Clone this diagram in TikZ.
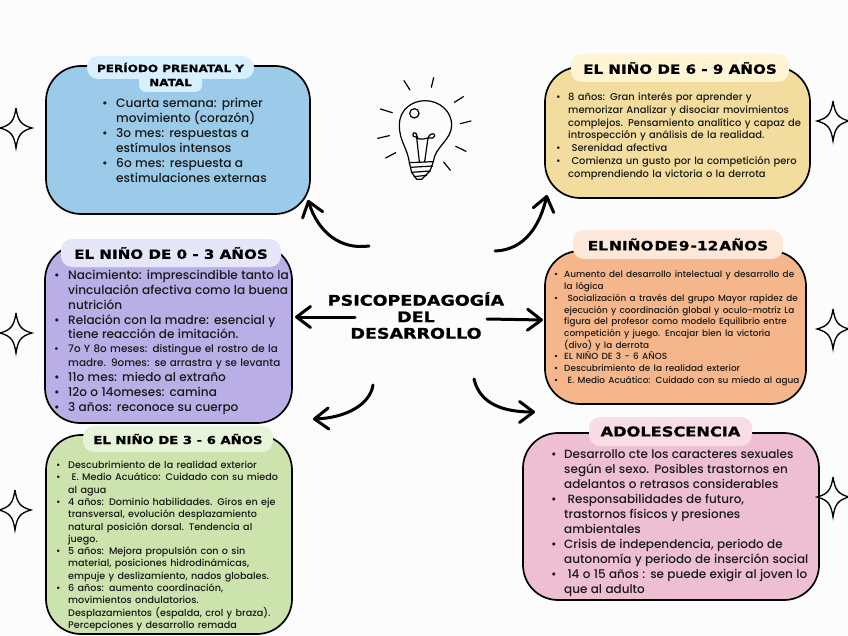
\documentclass[tikz,border=0pt]{standalone}
\usepackage{fontspec}
\setmainfont{Poppins Medium}
\newfontfamily\headfont{DejaVu Sans}[FakeStretch=1.2,FakeBold=1]
\usetikzlibrary{arrows.meta}

\definecolor{paper}{HTML}{FCFCFC}
\definecolor{bluebox}{HTML}{9BCBE8}
\definecolor{bluepill}{HTML}{D6F0FF}
\definecolor{lilacbox}{HTML}{B9AEE6}
\definecolor{lilacpill}{HTML}{E6E6FB}
\definecolor{greenbox}{HTML}{CCE3AE}
\definecolor{greenpill}{HTML}{E8F4D9}
\definecolor{yellowbox}{HTML}{F2DD9E}
\definecolor{yellowpill}{HTML}{FFF5D5}
\definecolor{orangebox}{HTML}{F4B68A}
\definecolor{orangepill}{HTML}{FDE8DA}
\definecolor{pinkbox}{HTML}{EEBFD2}
\definecolor{pinkpill}{HTML}{F8DCE6}

% list with tight lines: #1 indent, #2 font size, #3 line distance
\newenvironment{bulletlist}[3]{%
  \fontsize{#2}{#3}\selectfont
  \begin{list}{\textbullet}{\setlength{\leftmargin}{#1}\setlength{\labelwidth}{#1}%
    \setlength{\labelsep}{0pt}\setlength{\itemsep}{0pt}\setlength{\parsep}{0pt}%
    \setlength{\topsep}{0pt}\setlength{\partopsep}{0pt}%
    \def\makelabel##1{##1\hfil}}%
}{\end{list}}

\tikzset{
  bubble/.style={draw=black,line width=1.7pt,rounded corners=35pt,inner sep=0pt},
  pill/.style={rounded corners=11pt,inner sep=0pt,font=\headfont\bfseries\fontsize{#1}{#1}\selectfont},
  body/.style={anchor=north west,inner sep=0pt,text=black!90,align=left},
  arw/.style={line width=3pt,line cap=round,
    -{Straight Barb[length=14pt,width=21pt,line width=3pt,round]}},
  sparkle/.pic={\draw[line width=1.3pt,line join=miter]
    (0,-20) .. controls (2,-7) and (5,-3) .. (16,0)
    .. controls (5,3) and (2,7) .. (0,20)
    .. controls (-2,7) and (-5,3) .. (-16,0)
    .. controls (-5,-3) and (-2,-7) .. (0,-20);}
}

\begin{document}
\begin{tikzpicture}[x=1pt,y=-1pt]
  \useasboundingbox[fill=paper] (0,0) rectangle (848,636);

  % boxes
  \node[bubble,fill=bluebox,minimum width=264pt,minimum height=148pt] (blue) at (178,140) {};
  \node[bubble,fill=lilacbox,minimum width=247pt,minimum height=178pt] (lilac) at (168.5,334) {};
  \node[bubble,fill=greenbox,minimum width=246pt,minimum height=199pt] (green) at (169,534.5) {};
  \node[bubble,fill=yellowbox,minimum width=265pt,minimum height=131pt] (yellow) at (677.5,132.5) {};
  \node[bubble,fill=orangebox,minimum width=261pt,minimum height=153pt] (orange) at (675.5,327.5) {};
  \node[bubble,fill=pinkbox,minimum width=296pt,minimum height=167pt] (pink) at (671,516.5) {};

  % title pills
  \node[pill=10,fill=bluepill,minimum width=167pt,minimum height=23pt] (prenatal) at (170.5,67.5) {PERÍODO PRENATAL Y};
  \node[pill=10,fill=bluepill,minimum width=63pt,minimum height=19pt,rounded corners=7pt] (natal) at (170.5,82.5) {NATAL};
  \node[pill=12.6,fill=lilacpill,minimum width=220pt,minimum height=28pt] (age0) at (171,253) {EL NIÑO DE 0 - 3 AÑOS};
  \node[pill=11,fill=greenpill,minimum width=190pt,minimum height=26pt] (age3) at (178,439) {EL NIÑO DE 3 - 6 AÑOS};
  \node[pill=12.6,fill=yellowpill,minimum width=218pt,minimum height=28pt] (age6) at (680,68) {EL NIÑO DE 6 - 9 AÑOS};
  \node[pill=12.8,fill=orangepill,minimum width=210pt,minimum height=29pt] (age9) at (678,244.5) {\spaceskip=0.08em EL NIÑO DE 9 -12 AÑOS};
  \node[pill=13.5,fill=pinkpill,minimum width=163pt,minimum height=29pt] (teen) at (670.5,431.5) {ADOLESCENCIA};

  % lists
  \node[body,text width=190pt] (bluetext) at (102,92) {\begin{bulletlist}{14pt}{12.2}{15}
    \item Cuarta semana: primer\\movimiento (corazón)
    \item 3o mes: respuestas a\\estímulos intensos
    \item 6o mes: respuesta a\\estimulaciones externas
  \end{bulletlist}};
  \node[body,text width=240pt] (lilactext) at (54,265) {\begin{bulletlist}{14pt}{12.1}{14.7}
    \item Nacimiento: imprescindible tanto la\\vinculación afectiva como la buena\\nutrición
    \item Relación con la madre: esencial y\\tiene reacción de imitación.
    {\fontsize{10.4}{14.3}\selectfont
    \item 7o Y 8o meses: distingue el rostro de la\\madre. 9omes: se arrastra y se levanta\par}
    \item 11o mes: miedo al extraño
    \item 12o o 14omeses: camina
    \item 3 años: reconoce su cuerpo
  \end{bulletlist}};
  \node[body,text width=230pt] (greentext) at (56,456) {\begin{bulletlist}{12pt}{9.6}{12.3}
    \item Descubrimiento de la realidad exterior
    \item \ E. Medio Acuático: Cuidado con su miedo\\al agua
    \item 4 años: Dominio habilidades. Giros en eje\\transversal, evolución desplazamiento\\natural posición dorsal. Tendencia al\\juego.
    \item 5 años: Mejora propulsión con o sin\\material, posiciones hidrodinámicas,\\empuje y deslizamiento, nados globales.
    \item 6 años: aumento coordinación,\\movimientos ondulatorios.\\Desplazamientos (espalda, crol y braza).\\Percepciones y desarrollo remada
  \end{bulletlist}};
  \node[body,text width=270pt] (yellowtext) at (556,88) {\begin{bulletlist}{12pt}{9.95}{12.7}
    \item 8 años: Gran interés por aprender y\\memorizar Analizar y disociar movimientos\\complejos. Pensamiento analítico y capaz de\\introspección y análisis de la realidad.
    \item \ Serenidad afectiva
    \item \ Comienza un gusto por la competición pero\\comprendiendo la victoria o la derrota
  \end{bulletlist}};
  \node[body,text width=250pt] (orangetext) at (554,266) {\begin{bulletlist}{10pt}{8.9}{11.7}
    \item Aumento del desarrollo intelectual y desarrollo de\\la lógica
    \item \ Socialización a través del grupo Mayor rapidez de\\ejecución y coordinación global y oculo-motriz La\\figura del profesor como modelo Equilibrio entre\\competición y juego. Encajar bien la victoria\\(divo) y la derrota
    \item EL NIÑO DE 3 - 6 AÑOS
    \item Descubrimiento de la realidad exterior
    \item \ E. Medio Acuático: Cuidado con su miedo al agua
  \end{bulletlist}};
  \node[body,text width=265pt] (pinktext) at (551,443) {\begin{bulletlist}{13pt}{12}{15}
    \item Desarrollo cte los caracteres sexuales\\según el sexo. Posibles trastornos en\\adelantos o retrasos considerables
    \item \ Responsabilidades de futuro,\\trastornos físicos y presiones\\ambientales
    \item Crisis de independencia, periodo de\\autonomía y periodo de inserción social
    \item \ 14 o 15 años : se puede exigir al joven lo\\que al adulto
  \end{bulletlist}};

  % center title
  \node[align=center,inner sep=0pt,font=\headfont\bfseries\fontsize{14.6}{16.5}\selectfont] (main) at (416,315.5)
    {PSICOPEDAGOGÍA\\DEL\\DESARROLLO};

  % arrows
  \coordinate (a1) at (369,246);
  \coordinate (b1) at (308,200);
  \coordinate (a2) at (495,251);
  \coordinate (b2) at (547,195);
  \coordinate (a3) at (355,317);
  \coordinate (b3) at (295,317);
  \coordinate (a4) at (487,319);
  \coordinate (b4) at (543,320);
  \coordinate (a5) at (373,385);
  \coordinate (b5) at (313,419);
  \coordinate (a6) at (474,379);
  \coordinate (b6) at (535,412);
  \draw[arw] (a1) .. controls (340,250) and (318,232) .. (b1);
  \draw[arw] (a2) .. controls (525,250) and (540,225) .. (b2);
  \draw[arw] (a3) -- (b3);
  \draw[arw] (a4) -- (b4);
  \draw[arw] (a5) .. controls (370,405) and (345,418) .. (b5);
  \draw[arw] (a6) .. controls (480,405) and (505,412) .. (b6);

  % stars
  \foreach \x/\y in {16/128,16/333,15/510,833/121,833/329,833/497}
    \pic at (\x,\y) {sparkle};

  % bulb
  \begin{scope}[shift={(290,60)},scale=1/3,line width=1.2pt,line cap=round,line join=round]
    \draw (358,308) .. controls (352,262) and (328,245) .. (328,195)
      .. controls (328,150) and (365,122) .. (405,122)
      .. controls (450,122) and (485,155) .. (485,195)
      .. controls (485,240) and (435,260) .. (430,305);
    \draw (373,160) circle[radius=14];
    \draw (388,305) -- (380,232) .. controls (362,232) and (368,212) .. (378,220) -- (384,236)
      .. controls (395,238) and (405,238) .. (414,234) .. controls (422,212) and (445,222) .. (428,234) -- (414,234) -- (404,305);
    \draw (358,308) -- (430,305) (362,322) -- (428,318) (365,337) -- (420,333) (372,350) -- (410,346);
    \draw (358,308) -- (365,337) -- (380,358) -- (395,358) -- (420,333) -- (430,305);
    \foreach \u/\v/\s/\t in {342/62/360/90,431/53/424/82,520/110/493/127,543/183/511/191,
      528/274/497/259,481/331/461/306,287/294/317/278,263/235/298/227,271/147/307/158}
      \draw (\u,\v) -- (\s,\t);
  \end{scope}
\end{tikzpicture}
\end{document}
